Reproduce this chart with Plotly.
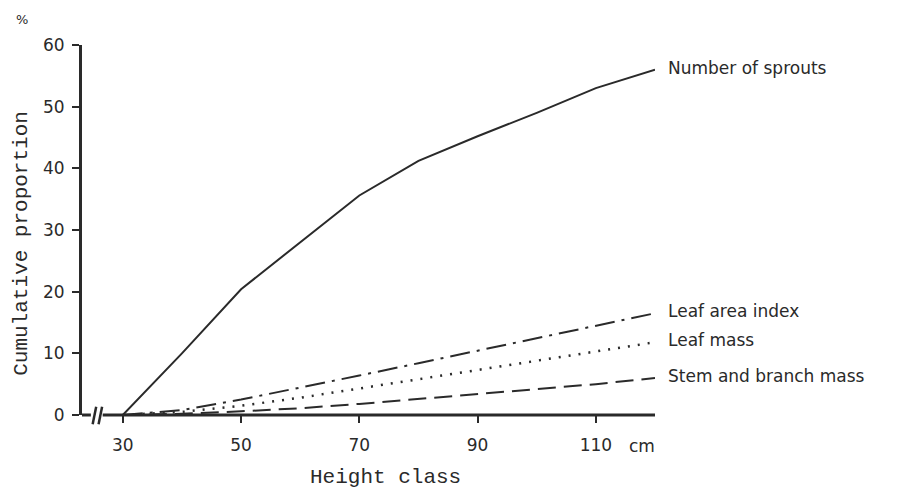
import plotly.graph_objects as go

height_class = [30, 40, 50, 60, 70, 80, 90, 100, 110, 120]
number_of_sprouts = [0, 10, 20.4, 28, 35.6, 41.2, 45.2, 49, 53, 56]
leaf_area_index = [0, 0.8, 2.5, 4.4, 6.4, 8.4, 10.4, 12.4, 14.5, 16.5]
leaf_mass = [0, 0.5, 1.5, 2.8, 4.3, 5.8, 7.3, 8.8, 10.3, 11.8]
stem_branch_mass = [0, 0.2, 0.6, 1.1, 1.8, 2.6, 3.4, 4.2, 5.0, 6.0]

series_names = ["Number of sprouts", "Leaf area index", "Leaf mass", "Stem and branch mass"]
series_values = [number_of_sprouts, leaf_area_index, leaf_mass, stem_branch_mass]
series_dash = ["solid", "20px,7px,3px,7px", "2px,8px", "18px,8px"]

x_ticks = [30, 50, 70, 90, 110]
y_ticks = [0, 10, 20, 30, 40, 50, 60]
x_range = [23.1, 120]
y_range = [0, 60]

ink = "#2a2a2a"
tick_font = dict(family="DejaVu Sans", size=17, color=ink)
label_font = dict(family="DejaVu Sans", size=17, color=ink)
title_font = dict(family="Liberation Mono", size=21, color=ink)

fig = go.Figure()
for name, vals, dash in zip(series_names, series_values, series_dash):
    fig.add_trace(go.Scatter(
        x=height_class, y=vals, mode="lines", name=name,
        line=dict(color=ink, width=2 if dash != "2px,8px" else 2.5, dash=dash),
        cliponaxis=False, showlegend=False,
    ))
    fig.add_annotation(x=height_class[-1], y=vals[-1], xref="x", yref="y",
                       text=name, showarrow=False, xanchor="left", yanchor="middle",
                       xshift=11, yshift=2, font=label_font)

def px(x):
    return (x - x_range[0]) / (x_range[1] - x_range[0])

shapes = []
axis_line = dict(color=ink, width=3)
shapes.append(dict(type="line", xref="paper", yref="paper", x0=0, x1=px(24.6), y0=0, y1=0, line=axis_line))
shapes.append(dict(type="line", xref="paper", yref="paper", x0=px(26.6), x1=1, y0=0, y1=0, line=axis_line))
for bx in (24.9, 25.9):
    shapes.append(dict(type="line", xref="paper", yref="paper",
                       x0=px(bx), x1=px(bx + 0.6), y0=-0.025, y1=0.022,
                       line=dict(color=ink, width=2.5)))

fig.update_layout(
    width=890, height=482,
    margin=dict(l=74, r=243, t=37, b=75),
    paper_bgcolor="white", plot_bgcolor="white",
    shapes=shapes,
    xaxis=dict(range=x_range, tickvals=x_ticks, ticktext=[str(v) for v in x_ticks],
               showgrid=False, zeroline=False, showline=False,
               ticks="outside", ticklen=7, tickwidth=2, tickcolor=ink,
               tickfont=tick_font, ticklabelstandoff=8),
    yaxis=dict(range=y_range, tickvals=y_ticks, ticktext=[str(v) for v in y_ticks],
               showgrid=False, zeroline=False, showline=True, linewidth=3, linecolor=ink,
               ticks="outside", ticklen=7, tickwidth=2, tickcolor=ink,
               tickfont=tick_font, ticklabelstandoff=4),
)

fig.add_annotation(x=x_range[1], y=0, xref="x", yref="y", text="cm", showarrow=False,
                   xanchor="right", yanchor="middle", yshift=-31, xshift=2, font=tick_font)
fig.add_annotation(x=0.529, y=-0.168, xref="paper", yref="paper", text="Height class",
                   showarrow=False, xanchor="center", yanchor="middle", font=title_font)
fig.add_annotation(x=-0.105, y=0.465, xref="paper", yref="paper", text="Cumulative proportion",
                   showarrow=False, textangle=-90, xanchor="center", yanchor="middle", font=title_font)
fig.add_annotation(x=-0.105, y=1.068, xref="paper", yref="paper", text="%",
                   showarrow=False, xanchor="center", yanchor="middle",
                   font=dict(family="DejaVu Sans", size=13, color=ink))

fig.write_html("out.html")
